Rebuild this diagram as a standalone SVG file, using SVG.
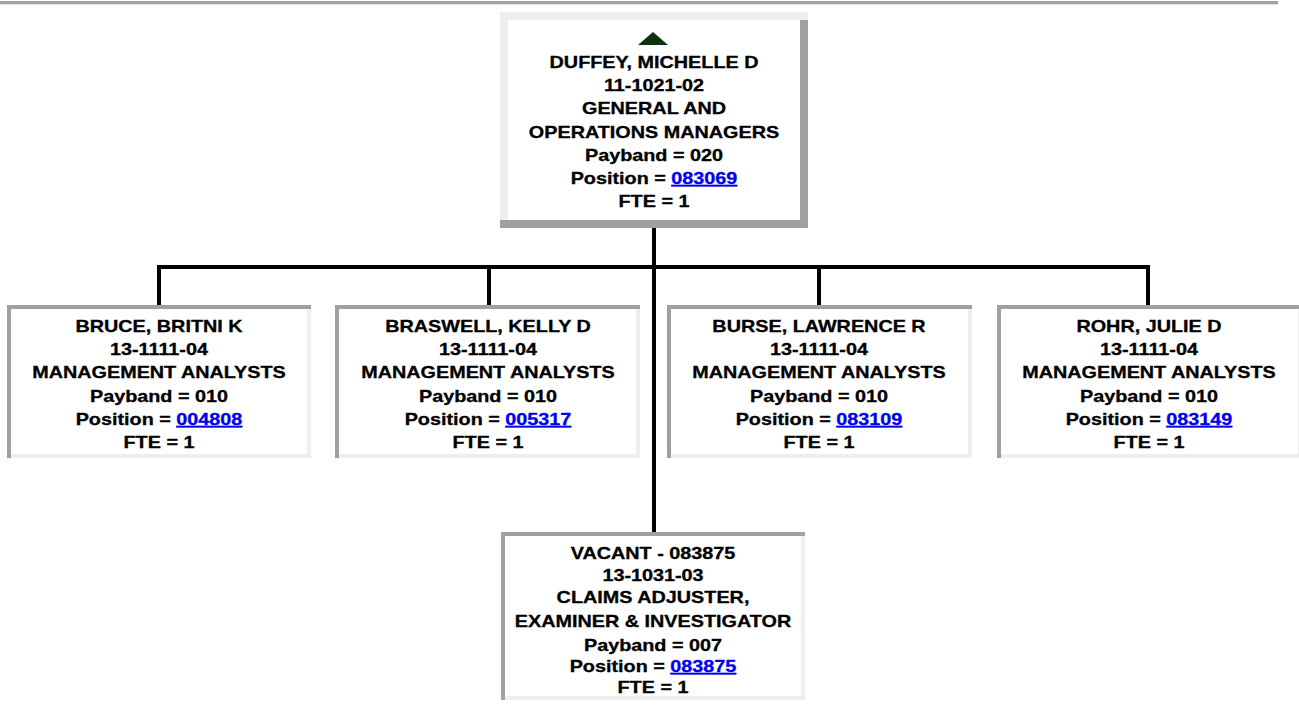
<svg xmlns="http://www.w3.org/2000/svg" width="1299" height="708" viewBox="0 0 1299 708">
<style>
.t{font-family:"Liberation Sans",Arial,sans-serif;font-weight:bold;font-size:16.3px;fill:#000;stroke:#000;stroke-width:0.3;text-anchor:middle}
.lk{fill:#0000ee;stroke:#0000ee;text-decoration:underline}
.dk{fill:#a0a0a0}
.lt{fill:#eeeeee}
.wh{fill:#ffffff}
.cn{stroke:#000;stroke-width:4;fill:none}
</style>
<rect x="0" y="1" width="1278" height="3" class="dk"/>
<rect x="0" y="4" width="1278" height="1" fill="#e4e4e4"/>
<g id="connectors">
<path class="cn" d="M654 228V532"/>
<path class="cn" d="M157 267H1150"/>
<path class="cn" d="M159 265V305M489 265V305M819 265V305M1148 265V305"/>
</g>
<g id="node-duffey">
<rect x="500" y="12" width="308" height="216" class="lt"/>
<rect x="800" y="20" width="8" height="208" class="dk"/>
<rect x="500" y="220" width="308" height="8" class="dk"/>
<rect x="508" y="20" width="292" height="200" class="wh"/>
<polygon points="638,45 668,45 653,32" fill="#0d300d"/>
<g transform="translate(654 0) scale(1.215 1)">
<text class="t" x="0" y="68">DUFFEY, MICHELLE D</text>
<text class="t" x="0" y="91">11-1021-02</text>
<text class="t" x="0" y="114">GENERAL AND</text>
<text class="t" x="0" y="138">OPERATIONS MANAGERS</text>
<text class="t" x="0" y="161">Payband = 020</text>
<text class="t" x="0" y="184">Position = <tspan class="lk">083069</tspan></text>
<text class="t" x="0" y="207">FTE = 1</text>
</g>
</g>
<g id="node-bruce">
<rect x="7" y="305" width="304" height="153" class="lt"/>
<rect x="7" y="305" width="304" height="4" class="dk"/>
<rect x="7" y="305" width="4" height="153" class="dk"/>
<rect x="11" y="309" width="296" height="145" class="wh"/>
<g transform="translate(159 0) scale(1.215 1)">
<text class="t" x="0" y="332">BRUCE, BRITNI K</text>
<text class="t" x="0" y="355">13-1111-04</text>
<text class="t" x="0" y="378">MANAGEMENT ANALYSTS</text>
<text class="t" x="0" y="402">Payband = 010</text>
<text class="t" x="0" y="425">Position = <tspan class="lk">004808</tspan></text>
<text class="t" x="0" y="448">FTE = 1</text>
</g>
</g>
<g id="node-braswell">
<rect x="335" y="305" width="305" height="153" class="lt"/>
<rect x="335" y="305" width="305" height="4" class="dk"/>
<rect x="335" y="305" width="4" height="153" class="dk"/>
<rect x="339" y="309" width="297" height="145" class="wh"/>
<g transform="translate(488 0) scale(1.215 1)">
<text class="t" x="0" y="332">BRASWELL, KELLY D</text>
<text class="t" x="0" y="355">13-1111-04</text>
<text class="t" x="0" y="378">MANAGEMENT ANALYSTS</text>
<text class="t" x="0" y="402">Payband = 010</text>
<text class="t" x="0" y="425">Position = <tspan class="lk">005317</tspan></text>
<text class="t" x="0" y="448">FTE = 1</text>
</g>
</g>
<g id="node-burse">
<rect x="667" y="305" width="305" height="153" class="lt"/>
<rect x="667" y="305" width="305" height="4" class="dk"/>
<rect x="667" y="305" width="4" height="153" class="dk"/>
<rect x="671" y="309" width="297" height="145" class="wh"/>
<g transform="translate(819 0) scale(1.215 1)">
<text class="t" x="0" y="332">BURSE, LAWRENCE R</text>
<text class="t" x="0" y="355">13-1111-04</text>
<text class="t" x="0" y="378">MANAGEMENT ANALYSTS</text>
<text class="t" x="0" y="402">Payband = 010</text>
<text class="t" x="0" y="425">Position = <tspan class="lk">083109</tspan></text>
<text class="t" x="0" y="448">FTE = 1</text>
</g>
</g>
<g id="node-rohr">
<rect x="997" y="305" width="305" height="153" class="lt"/>
<rect x="997" y="305" width="305" height="4" class="dk"/>
<rect x="997" y="305" width="4" height="153" class="dk"/>
<rect x="1001" y="309" width="297" height="145" class="wh"/>
<g transform="translate(1149 0) scale(1.215 1)">
<text class="t" x="0" y="332">ROHR, JULIE D</text>
<text class="t" x="0" y="355">13-1111-04</text>
<text class="t" x="0" y="378">MANAGEMENT ANALYSTS</text>
<text class="t" x="0" y="402">Payband = 010</text>
<text class="t" x="0" y="425">Position = <tspan class="lk">083149</tspan></text>
<text class="t" x="0" y="448">FTE = 1</text>
</g>
</g>
<g id="node-vacant">
<rect x="501" y="532" width="304" height="168" class="lt"/>
<rect x="501" y="532" width="304" height="4" class="dk"/>
<rect x="501" y="532" width="4" height="168" class="dk"/>
<rect x="505" y="536" width="296" height="160" class="wh"/>
<g transform="translate(653 0) scale(1.215 1)">
<text class="t" x="0" y="559">VACANT - 083875</text>
<text class="t" x="0" y="581">13-1031-03</text>
<text class="t" x="0" y="603">CLAIMS ADJUSTER,</text>
<text class="t" x="0" y="627">EXAMINER &amp; INVESTIGATOR</text>
<text class="t" x="0" y="651">Payband = 007</text>
<text class="t" x="0" y="672">Position = <tspan class="lk">083875</tspan></text>
<text class="t" x="0" y="693">FTE = 1</text>
</g>
</g>
</svg>
